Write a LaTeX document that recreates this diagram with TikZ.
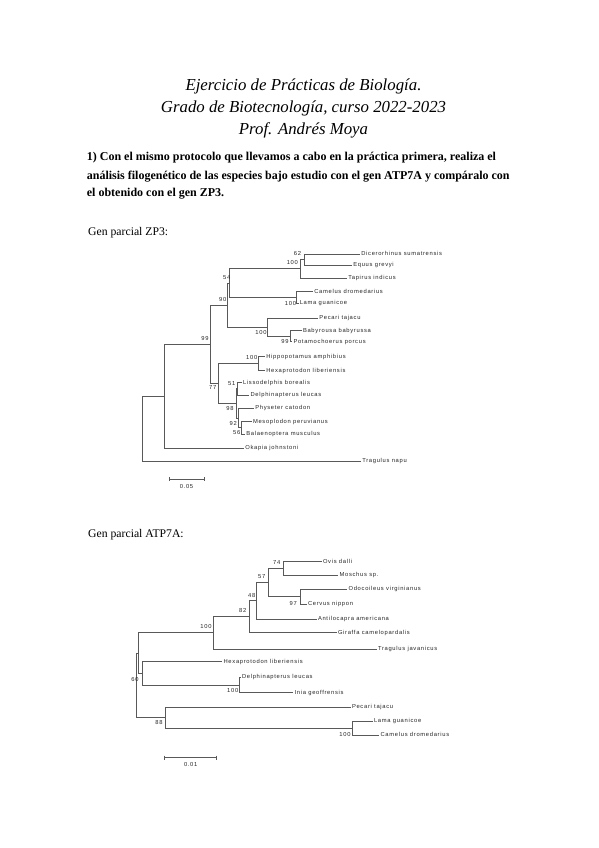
\documentclass[tikz,border=0pt]{standalone}
\usepackage{fontspec}
\setmainfont{Liberation Serif}
\newfontfamily\treefont[LetterSpace=12]{Liberation Sans}
\begin{document}
\begin{tikzpicture}[x=1pt,y=-1pt,
  br/.style={draw=black!65, line width=0.7pt},
  leaf/.style={anchor=west, inner sep=0pt, outer sep=1.3pt, text height=3.8pt, text depth=0.9pt, font=\treefont\fontsize{5.8}{6.5}\selectfont, text=black!85},
  bs/.style={inner sep=0pt, font=\treefont\fontsize{5.8}{6.5}\selectfont, text=black!85},
  ttl/.style={anchor=base, inner sep=0pt, font=\itshape\fontsize{16.8}{19}\selectfont},
  para/.style={anchor=base west, inner sep=0pt, font=\bfseries\fontsize{12}{14}\selectfont},
  sub/.style={anchor=base west, inner sep=0pt, font=\fontsize{11.7}{13}\selectfont}
  ]
\useasboundingbox[fill=white] (0,0) rectangle (599,848);

% ---------- texts ----------
\node[ttl] (t1) at (303.5,90.5) {Ejercicio de Prácticas de Biología.};
\node[ttl] (t2) at (303.5,112.7) {Grado de Biotecnología, curso 2022-2023};
\node[ttl] (t3) at (303.5,135) {Prof. Andrés Moya};
\node[para] (p1) at (86.7,160.7) {1) Con el mismo protocolo que llevamos a cabo en la práctica primera, realiza el};
\node[para] (p2) at (86.7,179.3) {análisis filogenético de las especies bajo estudio con el gen ATP7A y compáralo con};
\node[para] (p3) at (86.7,196.7) {el obtenido con el gen ZP3.};
\node[sub] (s1) at (88,235.5) {Gen parcial ZP3:};
\node[sub] (s2) at (88,537.5) {Gen parcial ATP7A:};

% ---------- ZP3 tree ----------
\node[leaf] (Dic) at (360,254) {Dicerorhinus sumatrensis};
\node[leaf] (Equ) at (352,265) {Equus grevyi};
\node[leaf] (Tap) at (347,278) {Tapirus indicus};
\node[leaf] (Cam) at (313,291.7) {Camelus dromedarius};
\node[leaf] (Lam) at (298.5,303.3) {Lama guanicoe};
\node[leaf] (Pec) at (318,318.3) {Pecari tajacu};
\node[leaf] (Bab) at (301.7,330.7) {Babyrousa babyrussa};
\node[leaf] (Pot) at (292.2,341.7) {Potamochoerus porcus};
\node[leaf] (Hip) at (265,356.7) {Hippopotamus amphibius};
\node[leaf] (Hex) at (265,370.7) {Hexaprotodon liberiensis};
\node[leaf] (Lis) at (241.7,382.7) {Lissodelphis borealis};
\node[leaf] (Del) at (249.3,395) {Delphinapterus leucas};
\node[leaf] (Phy) at (254,408.3) {Physeter catodon};
\node[leaf] (Mes) at (251.7,421.7) {Mesoplodon peruvianus};
\node[leaf] (Bal) at (245,434) {Balaenoptera musculus};
\node[leaf] (Oka) at (244,448.3) {Okapia johnstoni};
\node[leaf] (Tra) at (361,461) {Tragulus napu};

\coordinate (a62) at (304.3,259.5);
\coordinate (a100p) at (300,268.7);
\coordinate (aLC) at (296.7,297.5);
\coordinate (a54) at (229.5,283.1);
\coordinate (a99s) at (290.7,336.2);
\coordinate (a100s) at (267.7,327.2);
\coordinate (a90) at (227.7,305.2);
\coordinate (aHip) at (258,363.7);
\coordinate (a51) at (237.3,388.8);
\coordinate (a56) at (241.7,427.8);
\coordinate (a92) at (238.5,418);
\coordinate (a98) at (236,403.4);
\coordinate (a77) at (218.3,383.5);
\coordinate (a99) at (210,344.4);
\coordinate (aOk) at (164.3,396.4);
\coordinate (aRoot) at (142.7,428.7);

\draw[br] (a62) |- (Dic.west) (a62) |- (Equ.west);
\draw[br] (a100p) |- (a62) (a100p) |- (Tap.west);
\draw[br] (aLC) |- (Cam.west) (aLC) |- (Lam.west);
\draw[br] (a54) |- (a100p) (a54) |- (aLC);
\draw[br] (a99s) |- (Bab.west) (a99s) |- (Pot.west);
\draw[br] (a100s) |- (Pec.west) (a100s) |- (a99s);
\draw[br] (a90) |- (a54) (a90) |- (a100s);
\draw[br] (aHip) |- (Hip.west) (aHip) |- (Hex.west);
\draw[br] (a51) |- (Lis.west) (a51) |- (Del.west);
\draw[br] (a56) |- (Mes.west) (a56) |- (Bal.west);
\draw[br] (a92) |- (Phy.west) (a92) |- (a56);
\draw[br] (a98) |- (a51) (a98) |- (a92);
\draw[br] (a77) |- (aHip) (a77) |- (a98);
\draw[br] (a99) |- (a90) (a99) |- (a77);
\draw[br] (aOk) |- (a99) (aOk) |- (Oka.west);
\draw[br] (aRoot) |- (aOk) (aRoot) |- (Tra.west);

\node[bs] (l62) at (297.5,254) {62};
\node[bs] (l100a) at (292.3,262.7) {100};
\node[bs] (l54) at (226.7,277.7) {54};
\node[bs] (l90) at (222.7,300) {90};
\node[bs] (l100b) at (290.5,303.3) {100};
\node[bs] (l99a) at (205,339) {99};
\node[bs] (l100c) at (261,332.7) {100};
\node[bs] (l99b) at (285,341.7) {99};
\node[bs] (l100d) at (251.7,357.3) {100};
\node[bs] (l77) at (212.7,388) {77};
\node[bs] (l51) at (231.7,384) {51};
\node[bs] (l98) at (230,408) {98};
\node[bs] (l92) at (233.3,423.3) {92};
\node[bs] (l56) at (236.7,432.7) {56};

\coordinate (sbA1) at (169.3,479);
\coordinate (sbA2) at (204,479);
\draw[br] (sbA1) -- (sbA2);
\draw[br] (sbA1) ++(0,-2) -- ++(0,4);
\draw[br] (sbA2) ++(0,-2) -- ++(0,4);
\node[bs] (sbAl) at (186.5,486) {0.05};

% ---------- ATP7A tree ----------
\node[leaf] (Ovi) at (321.7,561.7) {Ovis dalli};
\node[leaf] (Mos) at (338.3,575) {Moschus sp.};
\node[leaf] (Odo) at (347.3,589.3) {Odocoileus virginianus};
\node[leaf] (Cer) at (306.7,604.3) {Cervus nippon};
\node[leaf] (Ant) at (316.7,619) {Antilocapra americana};
\node[leaf] (Gir) at (336.7,632.7) {Giraffa camelopardalis};
\node[leaf] (Trj) at (376.7,649) {Tragulus javanicus};
\node[leaf] (Hxl) at (222.3,661.7) {Hexaprotodon liberiensis};
\node[leaf] (Dle) at (240.7,677.3) {Delphinapterus leucas};
\node[leaf] (Ini) at (293.3,692.7) {Inia geoffrensis};
\node[leaf] (Pct) at (350.7,707.3) {Pecari tajacu};
\node[leaf] (Lgu) at (372.7,721) {Lama guanicoe};
\node[leaf] (Cdr) at (379.3,735) {Camelus dromedarius};

\coordinate (b74) at (283.3,568.3);
\coordinate (b97) at (300,596.8);
\coordinate (b57) at (268.3,582.5);
\coordinate (b48) at (256,600.8);
\coordinate (b82) at (249,616.7);
\coordinate (b100) at (213.3,632.8);
\coordinate (bW) at (239.3,685);
\coordinate (bHW) at (142.3,673.3);
\coordinate (b60) at (138,653);
\coordinate (bLC) at (352.7,728);
\coordinate (b88) at (165,717.7);
\coordinate (bRoot) at (136,685.4);

\draw[br] (b74) |- (Ovi.west) (b74) |- (Mos.west);
\draw[br] (b97) |- (Odo.west) (b97) |- (Cer.west);
\draw[br] (b57) |- (b74) (b57) |- (b97);
\draw[br] (b48) |- (b57) (b48) |- (Ant.west);
\draw[br] (b82) |- (b48) (b82) |- (Gir.west);
\draw[br] (b100) |- (b82) (b100) |- (Trj.west);
\draw[br] (bW) |- (Dle.west) (bW) |- (Ini.west);
\draw[br] (bHW) |- (Hxl.west) (bHW) |- (bW);
\draw[br] (b60) |- (b100) (b60) |- (bHW);
\draw[br] (bLC) |- (Lgu.west) (bLC) |- (Cdr.west);
\draw[br] (b88) |- (Pct.west) (b88) |- (bLC);
\draw[br] (bRoot) |- (b60) (bRoot) |- (b88);

\node[bs] (m74) at (276.7,562.3) {74};
\node[bs] (m57) at (261.7,576.7) {57};
\node[bs] (m48) at (251.7,595) {48};
\node[bs] (m82) at (242.7,610.7) {82};
\node[bs] (m97) at (293.3,603.3) {97};
\node[bs] (m100a) at (206,626.7) {100};
\node[bs] (m60) at (135,679) {60};
\node[bs] (m100b) at (232.7,690) {100};
\node[bs] (m88) at (159,722.7) {88};
\node[bs] (m100c) at (345,734) {100};

\coordinate (sbB1) at (164,757.7);
\coordinate (sbB2) at (216.7,757.7);
\draw[br] (sbB1) -- (sbB2);
\draw[br] (sbB1) ++(0,-2) -- ++(0,4);
\draw[br] (sbB2) ++(0,-2) -- ++(0,4);
\node[bs] (sbBl) at (190.7,764.5) {0.01};
\end{tikzpicture}
\end{document}
